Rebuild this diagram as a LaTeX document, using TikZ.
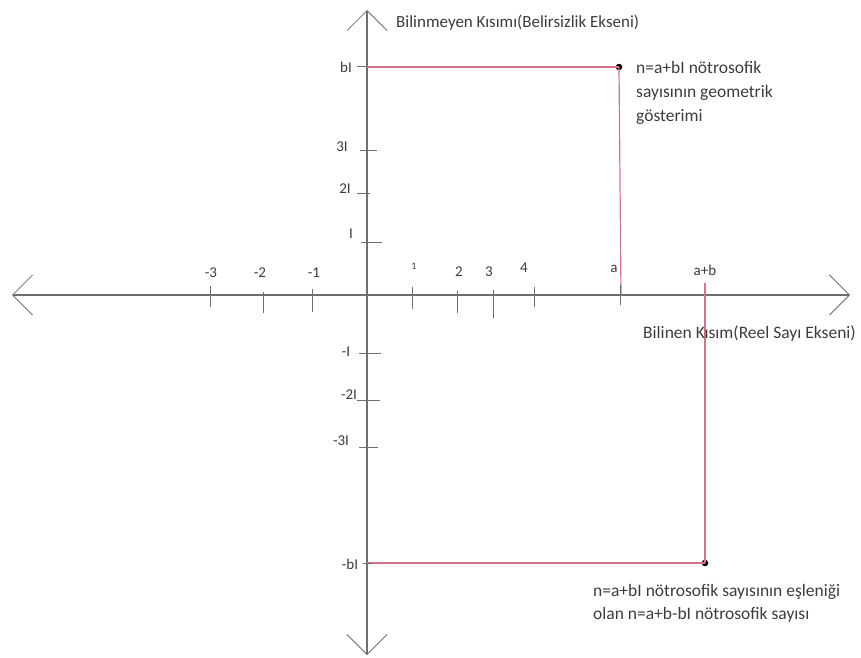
\documentclass[tikz,border=0pt]{standalone}
\usepackage{fontspec}
\setmainfont{Carlito}
\usetikzlibrary{arrows.meta}
\definecolor{axisgray}{RGB}{110,110,110}
\definecolor{txtgray}{RGB}{60,60,60}
\definecolor{linered}{RGB}{210,115,135}
\tikzset{
  axis/.style={draw=axisgray, line width=1.1pt, {Straight Barb[length=20pt,width=40pt,line width=0.8pt]}-{Straight Barb[length=20pt,width=40pt,line width=0.8pt]}},
  tick/.style={draw=axisgray, line width=0.9pt},
  redline/.style={draw=linered, line width=1.2pt},
  lbl/.style={text=txtgray, font=\fontsize{15}{17}\selectfont, inner sep=0pt},
  note/.style={text=txtgray, font=\fontsize{17.5}{24}\selectfont, inner sep=0pt, align=left},
  dotmark/.style={circle, fill=black, inner sep=0pt, minimum size=6.5pt}
}
\begin{document}
\begin{tikzpicture}[x=1pt,y=-1pt]
\useasboundingbox (0,0) rectangle (861,657);
% axes
\coordinate (L) at (12,295);
\coordinate (R) at (850,295);
\coordinate (T) at (367,10);
\coordinate (B) at (367,655);
\draw[axis] (L) -- (R);
\draw[axis] (B) -- (T);
% red guide lines and points
\node[dotmark] (P) at (619,67) {};
\node[dotmark] (Q) at (705,563) {};
\coordinate (Pa) at (367,67);
\coordinate (Pb) at (621,295);
\coordinate (Qa) at (367,563);
\coordinate (Qb) at (705,283);
\draw[redline] (Pa) -- (P.center);
\draw[redline] (P.center) -- (Pb);
\draw[redline] (Qa) -- (Q.center);
\draw[redline] (Q.center) -- (Qb);
% horizontal ticks
\foreach \x/\ya/\yb/\n in {210/286/307/m3, 263/292/313/m2, 312/289/312/m1, 412/287/309/p1, 457/291/313/p2, 493/290/318/p3, 534/287/307/p4, 620/285/305/ta}{
  \coordinate (\n a) at (\x,\ya);
  \coordinate (\n b) at (\x,\yb);
  \draw[tick] (\n a) -- (\n b);
}
% vertical ticks
\foreach \y/\xa/\xb/\n in {66/357/367/vb, 150/360/377/v3, 193/357/370/v2, 242/361/382/v1, 353/359/381/vm1, 400/357/380/vm2, 447/359/378/vm3, 563/363/372/vmb}{
  \coordinate (\n a) at (\xa,\y);
  \coordinate (\n b) at (\xb,\y);
  \draw[tick] (\n a) -- (\n b);
}
% horizontal labels
\node[lbl] (lm3) at (211,273) {-3};
\node[lbl] (lm2) at (260,273) {-2};
\node[lbl] (lm1) at (314,273) {-1};
\node[lbl, font=\fontsize{10}{11}\selectfont] (lp1) at (414,266) {1};
\node[lbl] (lp2) at (459,272) {2};
\node[lbl] (lp3) at (489,272) {3};
\node[lbl] (lp4) at (524,268) {4};
\node[lbl] (la) at (614,269) {a};
\node[lbl] (lab) at (705,270) {a+b};
% vertical labels
\node[lbl] (lvb) at (346,67) {bI};
\node[lbl] (lv3) at (342,147) {3I};
\node[lbl] (lv2) at (345,189) {2I};
\node[lbl] (lv1) at (351,234) {I};
\node[lbl] (lvm1) at (346,352) {-I};
\node[lbl] (lvm2) at (349,395) {-2I};
\node[lbl] (lvm3) at (341,441) {-3I};
\node[lbl] (lvmb) at (350,564) {-bI};
% axis titles
\node[note, font=\fontsize{17}{20}\selectfont, anchor=base west] (ytitle) at (396,27) {Bilinmeyen Kısımı(Belirsizlik Ekseni)};
\node[note, anchor=base west] (xtitle) at (643,338) {Bilinen Kısım(Reel Sayı Ekseni)};
% notes (anchored at the baseline of their last line)
\node[note, anchor=base west] (n1) at (636,121) {n=a+bI nötrosofik\\sayısının geometrik\\gösterimi};
\node[note, font=\fontsize{17.5}{23}\selectfont, anchor=base west] (n2) at (593,619) {n=a+bI nötrosofik sayısının eşleniği\\olan n=a+b-bI nötrosofik sayısı};
\end{tikzpicture}
\end{document}
